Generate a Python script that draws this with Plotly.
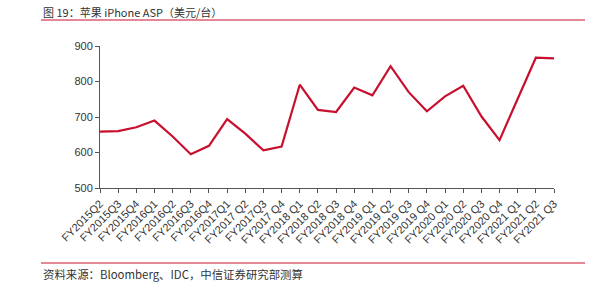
import plotly.graph_objects as go

categories = ["FY2015Q2", "FY2015Q3", "FY2015Q4", "FY2016Q1", "FY2016Q2", "FY2016Q3",
              "FY2016Q4", "FY2017Q1", "FY2017 Q2", "FY2017Q3", "FY2017 Q4", "FY2018 Q1",
              "FY2018 Q2", "FY2018 Q3", "FY2018 Q4", "FY2019 Q1", "FY2019 Q2", "FY2019 Q3",
              "FY2019 Q4", "FY2020 Q1", "FY2020 Q2", "FY2020 Q3", "FY2020 Q4", "FY2021 Q1",
              "FY2021 Q2", "FY2021 Q3"]
asp = [659, 660, 671, 690, 645, 595, 619, 694, 653, 606, 617, 791,
       720, 714, 783, 761, 843, 770, 716, 758, 788, 702, 635, 751, 867, 865]
y_ticks = [500, 600, 700, 800, 900]

title_text = "图 19：苹果 iPhone ASP（美元/台）"
source_text = "资料来源：Bloomberg、IDC，中信证券研究部测算"

W, H = 600, 287
L, R, T, B = 100, 46, 46, 99
pw, ph = W - L - R, H - T - B

def px_x(p):
    return (p - L) / pw

def px_y(p):
    return (H - B - p) / ph

fig = go.Figure()
fig.add_trace(go.Scatter(
    x=categories, y=asp, mode="lines",
    line=dict(color="#C8102E", width=2.2),
    cliponaxis=False, hoverinfo="skip",
))

font_main = "Noto Sans CJK SC, Arial, sans-serif"
fig.update_layout(
    width=W, height=H,
    margin=dict(l=L, r=R, t=T, b=B),
    paper_bgcolor="white", plot_bgcolor="white",
    showlegend=False,
    font=dict(family=font_main, color="#333333", size=10),
    xaxis=dict(
        type="category", range=[0, len(categories) - 1],
        showline=True, linecolor="#555555", linewidth=1,
        ticks="outside", ticklen=4, tickcolor="#555555",
        tickangle=-45, tickfont=dict(size=11, color="#333333", family="Liberation Sans, Arial"),
        showgrid=False, zeroline=False,
    ),
    yaxis=dict(
        range=[500, 900], tickvals=y_ticks,
        showline=True, linecolor="#555555", linewidth=1,
        ticks="outside", ticklen=4, tickcolor="#555555",
        tickfont=dict(size=11, color="#333333", family="Liberation Sans, Arial"),
        showgrid=False, zeroline=False,
    ),
    annotations=[
        dict(text=title_text, xref="paper", yref="paper", x=px_x(41), y=px_y(12),
             xanchor="left", yanchor="middle", showarrow=False,
             font=dict(size=11, color="#333333", family=font_main)),
        dict(text=source_text, xref="paper", yref="paper", x=px_x(41), y=px_y(274),
             xanchor="left", yanchor="middle", showarrow=False,
             font=dict(size=11.4, color="#333333", family=font_main)),
    ],
    shapes=[
        dict(type="line", xref="paper", yref="paper", x0=px_x(41), x1=px_x(585),
             y0=px_y(20), y1=px_y(20), line=dict(color="#C8102E", width=1)),
        dict(type="line", xref="paper", yref="paper", x0=px_x(41), x1=px_x(585),
             y0=px_y(263), y1=px_y(263), line=dict(color="#C8102E", width=1)),
    ],
)

fig.write_html("out.html")
